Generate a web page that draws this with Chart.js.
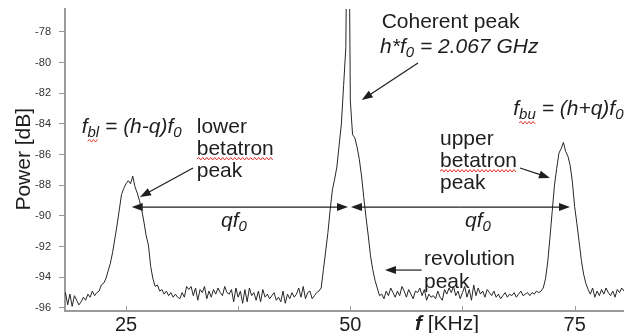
<!DOCTYPE html>
<html>
<head>
<meta charset="utf-8">
<script src="https://cdn.jsdelivr.net/npm/chart.js@4"></script>
<style>
  html, body { margin: 0; padding: 0; background: #fff; }
  #wrap { width: 624px; height: 333px; }
</style>
</head>
<body>
<div id="wrap"><canvas id="spectrum" width="624" height="333"></canvas></div>
<script>
// spectrum trace, frequency in kHz (offset), power in dB
const freqKHz = [
  18.00, 18.25, 18.50, 18.75, 19.00, 19.25, 19.50, 19.75,
  20.00, 20.25, 20.50, 20.75, 21.00, 21.25, 21.50, 21.75,
  22.00, 22.25, 22.50, 22.75, 23.00, 23.25, 23.50, 23.75,
  24.00, 24.25, 24.50, 24.75, 25.00, 25.25, 25.50, 25.75,
  26.00, 26.25, 26.50, 26.75, 27.00, 27.25, 27.50, 27.75,
  28.00, 28.25, 28.50, 28.75, 29.00, 29.25, 29.50, 29.75,
  30.00, 30.25, 30.50, 30.75, 31.00, 31.25, 31.50, 31.75,
  32.00, 32.25, 32.50, 32.75, 33.00, 33.25, 33.50, 33.75,
  34.00, 34.25, 34.50, 34.75, 35.00, 35.25, 35.50, 35.75,
  36.00, 36.25, 36.50, 36.75, 37.00, 37.25, 37.50, 37.75,
  38.00, 38.25, 38.50, 38.75, 39.00, 39.25, 39.50, 39.75,
  40.00, 40.25, 40.50, 40.75, 41.00, 41.25, 41.50, 41.75,
  42.00, 42.25, 42.50, 42.75, 43.00, 43.25, 43.50, 43.75,
  44.00, 44.25, 44.50, 44.75, 45.00, 45.25, 45.50, 45.75,
  46.00, 46.25, 46.50, 46.75, 47.00, 47.25, 47.50, 47.75,
  48.00, 48.25, 48.50, 48.75, 49.00, 49.25, 49.50, 49.75,
  50.00, 50.25, 50.50, 50.75, 51.00, 51.25, 51.50, 51.75,
  52.00, 52.25, 52.50, 52.75, 53.00, 53.25, 53.50, 53.75,
  54.00, 54.25, 54.50, 54.75, 55.00, 55.25, 55.50, 55.75,
  56.00, 56.25, 56.50, 56.75, 57.00, 57.25, 57.50, 57.75,
  58.00, 58.25, 58.50, 58.75, 59.00, 59.25, 59.50, 59.75,
  60.00, 60.25, 60.50, 60.75, 61.00, 61.25, 61.50, 61.75,
  62.00, 62.25, 62.50, 62.75, 63.00, 63.25, 63.50, 63.75,
  64.00, 64.25, 64.50, 64.75, 65.00, 65.25, 65.50, 65.75,
  66.00, 66.25, 66.50, 66.75, 67.00, 67.25, 67.50, 67.75,
  68.00, 68.25, 68.50, 68.75, 69.00, 69.25, 69.50, 69.75,
  70.00, 70.25, 70.50, 70.75, 71.00, 71.25, 71.50, 71.75,
  72.00, 72.25, 72.50, 72.75, 73.00, 73.25, 73.50, 73.75,
  74.00, 74.25, 74.50, 74.75, 75.00, 75.25, 75.50, 75.75,
  76.00, 76.25, 76.50, 76.75, 77.00, 77.25, 77.50, 77.75,
  78.00, 78.25, 78.50, 78.75, 79.00, 79.25, 79.50, 79.75,
  80.00, 80.25, 80.50
];
const powerDb = [
  -95.5, -95.0, -95.8, -95.1, -95.9, -95.2, -95.5, -95.8,
  -95.6, -95.3, -95.5, -95.1, -95.3, -94.9, -95.2, -95.0,
  -94.9, -94.5, -94.4, -94.1, -93.6, -93.1, -92.4, -91.5,
  -90.6, -89.6, -88.6, -88.2, -87.9, -87.7, -87.9, -87.4,
  -88.1, -88.5, -89.0, -89.6, -90.4, -91.3, -91.9, -93.3,
  -94.1, -94.6, -94.5, -94.9, -94.8, -95.1, -94.9, -95.2,
  -95.0, -95.3, -95.1, -95.3, -95.4, -95.0, -95.3, -94.6,
  -94.8, -94.6, -95.2, -94.7, -95.5, -94.8, -95.0, -94.6,
  -95.4, -94.9, -95.3, -94.8, -95.1, -94.7, -95.0, -95.2,
  -94.6, -95.0, -95.1, -94.8, -95.6, -94.7, -95.3, -94.9,
  -95.7, -94.8, -95.6, -94.7, -95.2, -95.0, -95.5, -94.9,
  -95.6, -94.8, -95.3, -95.1, -95.4, -95.2, -95.0, -95.5,
  -95.3, -95.6, -94.9, -95.7, -95.1, -95.4, -95.0, -95.3,
  -95.1, -94.7, -95.3, -94.6, -95.4, -95.0, -94.9, -95.4,
  -95.2, -95.0, -94.9, -94.7, -93.5, -92.3, -91.1, -89.6,
  -88.3, -87.6, -86.8, -85.4, -84.0, -81.5, -79.0, -62.0,
  -82.5, -84.7, -84.9, -85.5, -86.3, -87.4, -88.8, -90.1,
  -91.3, -92.6, -93.5, -94.2, -94.7, -95.2, -95.1, -95.4,
  -94.9, -95.2, -94.7, -95.0, -95.3, -94.9, -95.2, -94.6,
  -94.9, -95.3, -94.8, -95.1, -95.4, -94.9, -95.0, -94.7,
  -95.2, -94.8, -95.5, -95.1, -95.3, -95.2, -95.4, -94.9,
  -95.3, -95.5, -94.8, -95.1, -94.7, -95.0, -94.6, -95.2,
  -94.9, -95.4, -95.0, -94.6, -95.3, -94.8, -95.5, -94.5,
  -95.2, -94.7, -95.1, -94.9, -95.3, -94.8, -95.0, -95.2,
  -94.9, -95.3, -95.1, -95.4, -95.2, -95.0, -95.3, -95.1,
  -95.2, -95.0, -95.3, -95.1, -94.9, -95.2, -95.1, -95.0,
  -95.2, -95.0, -95.1, -94.9, -95.0, -94.9, -94.7, -94.1,
  -93.0, -91.4, -89.7, -88.0, -86.9, -85.9, -85.6, -85.2,
  -85.8, -86.1, -86.7, -87.8, -89.4, -90.5, -91.7, -92.9,
  -93.8, -94.4, -94.8, -95.1, -94.7, -95.3, -94.9, -95.2,
  -94.8, -95.1, -94.7, -95.0, -95.2, -94.9, -95.3, -94.8,
  -95.0, -94.7, -94.9
];

const xTicks = [25, 37.5, 50, 62.5, 75];
const xTickLabels = { 25: '25', 50: '50', 75: '75' };
const yTicks = [-96, -94, -92, -90, -88, -86, -84, -82, -80, -78];

const FAMILY = '"Liberation Sans", Arial, sans-serif';
const INK = '#1e1e1e';
const AXIS = '#9a9a9a';

// text notes and arrows, anchored in data coordinates (kHz, dB)
const notes = [
  { at: [20.06, -84.59], parts: [{ t: 'f' }, { t: 'bl', sub: true, squiggle: true }, { t: ' = (h-q)f' }, { t: '0', sub: true }] },
  { at: [32.88, -84.59], parts: [{ t: 'lower', style: 'normal' }] },
  { at: [32.88, -86.02], parts: [{ t: 'betatron', style: 'normal', squiggle: true }] },
  { at: [32.88, -87.46], parts: [{ t: 'peak', style: 'normal' }] },
  { at: [35.59, -90.72], parts: [{ t: 'qf' }, { t: '0', sub: true }] },
  { at: [62.78, -90.72], parts: [{ t: 'qf' }, { t: '0', sub: true }] },
  { at: [53.49, -77.74], parts: [{ t: 'Coherent peak', style: 'normal' }] },
  { at: [53.31, -79.37], parts: [{ t: 'h*f' }, { t: '0', sub: true }, { t: ' = 2.067 GHz' }] },
  { at: [68.16, -83.41], parts: [{ t: 'f' }, { t: 'bu', sub: true, squiggle: true }, { t: ' = (h+q)f' }, { t: '0', sub: true }] },
  { at: [59.99, -85.37], parts: [{ t: 'upper', style: 'normal' }] },
  { at: [59.99, -86.81], parts: [{ t: 'betatron', style: 'normal', squiggle: true }] },
  { at: [59.99, -88.24], parts: [{ t: 'peak', style: 'normal' }] },
  { at: [58.21, -93.20], parts: [{ t: 'revolution', style: 'normal' }] },
  { at: [58.21, -94.70], parts: [{ t: 'peak', style: 'normal' }] }
];
const arrows = [
  { from: [32.47, -86.87], to: [26.56, -88.76] },
  { from: [57.54, -80.02], to: [51.27, -82.44] },
  { from: [68.91, -86.87], to: [72.25, -87.52] },
  { from: [57.95, -93.53], to: [53.86, -93.53] },
  { from: [37.70, -89.42], to: [25.63, -89.42] },
  { from: [37.70, -89.42], to: [49.74, -89.42] },
  { from: [62.20, -89.42], to: [50.07, -89.42] },
  { from: [62.20, -89.42], to: [74.48, -89.42] }
];

function squiggle(ctx, x1, x2, y) {
  ctx.save();
  ctx.strokeStyle = '#e0302a';
  ctx.lineWidth = 1;
  ctx.beginPath();
  let up = true;
  ctx.moveTo(x1, y);
  for (let x = x1 + 2; x <= x2; x += 2) {
    ctx.lineTo(x, up ? y - 1.5 : y + 1);
    up = !up;
  }
  ctx.stroke();
  ctx.restore();
}

function drawRich(ctx, x, y, parts) {
  for (const p of parts) {
    const size = p.sub ? 15 : 21;
    ctx.font = (p.style || 'italic') + ' ' + size + 'px ' + FAMILY;
    const w = ctx.measureText(p.t).width;
    const yy = p.sub ? y + 4 : y;
    ctx.fillText(p.t, x, yy);
    if (p.squiggle) squiggle(ctx, x, x + w, yy + 4);
    x += w;
  }
}

function arrow(ctx, x1, y1, x2, y2) {
  const a = Math.atan2(y2 - y1, x2 - x1), L = 11, W = 4;
  const c = Math.cos(a), s = Math.sin(a);
  ctx.beginPath();
  ctx.moveTo(x1, y1);
  ctx.lineTo(x2 - c * L * 0.8, y2 - s * L * 0.8);
  ctx.stroke();
  ctx.beginPath();
  ctx.moveTo(x2, y2);
  ctx.lineTo(x2 - L * c + W * s, y2 - L * s - W * c);
  ctx.lineTo(x2 - L * c - W * s, y2 - L * s + W * c);
  ctx.closePath();
  ctx.fill();
}

const annotations = {
  id: 'annotations',
  afterDraw(chart) {
    const { ctx, chartArea } = chart;
    const xs = chart.scales.x, ys = chart.scales.y;
    const P = (f, v) => [xs.getPixelForValue(f), ys.getPixelForValue(v)];
    ctx.save();

    // x tick marks point into the plot
    ctx.strokeStyle = AXIS;
    ctx.lineWidth = 1;
    for (const v of xTicks) {
      const px = Math.round(xs.getPixelForValue(v)) + 0.5;
      ctx.beginPath();
      ctx.moveTo(px, chartArea.bottom);
      ctx.lineTo(px, chartArea.bottom - 5);
      ctx.stroke();
    }

    ctx.fillStyle = INK;
    ctx.strokeStyle = INK;
    ctx.lineWidth = 1.2;
    ctx.textBaseline = 'alphabetic';
    ctx.textAlign = 'left';
    for (const n of notes) {
      const [px, py] = P(n.at[0], n.at[1]);
      drawRich(ctx, px, py, n.parts);
    }
    for (const a of arrows) {
      const [x1, y1] = P(a.from[0], a.from[1]);
      const [x2, y2] = P(a.to[0], a.to[1]);
      arrow(ctx, x1, y1, x2, y2);
    }

    // x axis title: bold italic f, then unit
    const tx = xs.getPixelForValue(57.2);
    const ty = chartArea.bottom + 19;
    ctx.font = 'italic bold 21px ' + FAMILY;
    ctx.fillText('f', tx, ty);
    const fw = ctx.measureText('f ').width;
    ctx.font = '21px ' + FAMILY;
    ctx.fillText('[KHz]', tx + fw, ty);

    // y axis title, rotated
    ctx.save();
    ctx.translate(30, ys.getPixelForValue(-86.3));
    ctx.rotate(-Math.PI / 2);
    ctx.textAlign = 'center';
    ctx.font = '21px ' + FAMILY;
    ctx.fillText('Power [dB]', 0, 0);
    ctx.restore();

    ctx.restore();
  }
};

new Chart(document.getElementById('spectrum'), {
  type: 'line',
  data: {
    datasets: [{
      data: freqKHz.map((f, i) => ({ x: f, y: powerDb[i] })),
      borderColor: '#262626',
      borderWidth: 1,
      pointRadius: 0,
      tension: 0
    }]
  },
  options: {
    responsive: false,
    animation: false,
    layout: { padding: { top: 9, right: 0, bottom: 0, left: 0 } },
    plugins: { legend: { display: false }, tooltip: { enabled: false } },
    scales: {
      x: {
        type: 'linear',
        min: 18.2,
        max: 80.5,
        afterBuildTicks: s => { s.ticks = xTicks.map(v => ({ value: v })); },
        afterFit: s => { s.height = 22; s.paddingLeft = 0; s.paddingRight = 0; },
        grid: { drawOnChartArea: false, drawTicks: false },
        border: { color: AXIS, width: 2 },
        ticks: {
          autoSkip: false, maxRotation: 0, padding: 2,
          color: INK, font: { size: 20, family: FAMILY },
          callback: v => xTickLabels[v] || ''
        }
      },
      y: {
        type: 'linear',
        min: -96.2,
        max: -76.5,
        afterBuildTicks: s => { s.ticks = yTicks.map(v => ({ value: v })); },
        afterFit: s => { s.width = 65; s.paddingTop = 0; s.paddingBottom = 0; },
        grid: { drawOnChartArea: false, drawTicks: true, tickLength: 6, color: AXIS },
        border: { color: AXIS, width: 2 },
        ticks: { color: '#333', font: { size: 11, family: FAMILY }, padding: 8 }
      }
    }
  },
  plugins: [annotations]
});
</script>
</body>
</html>
